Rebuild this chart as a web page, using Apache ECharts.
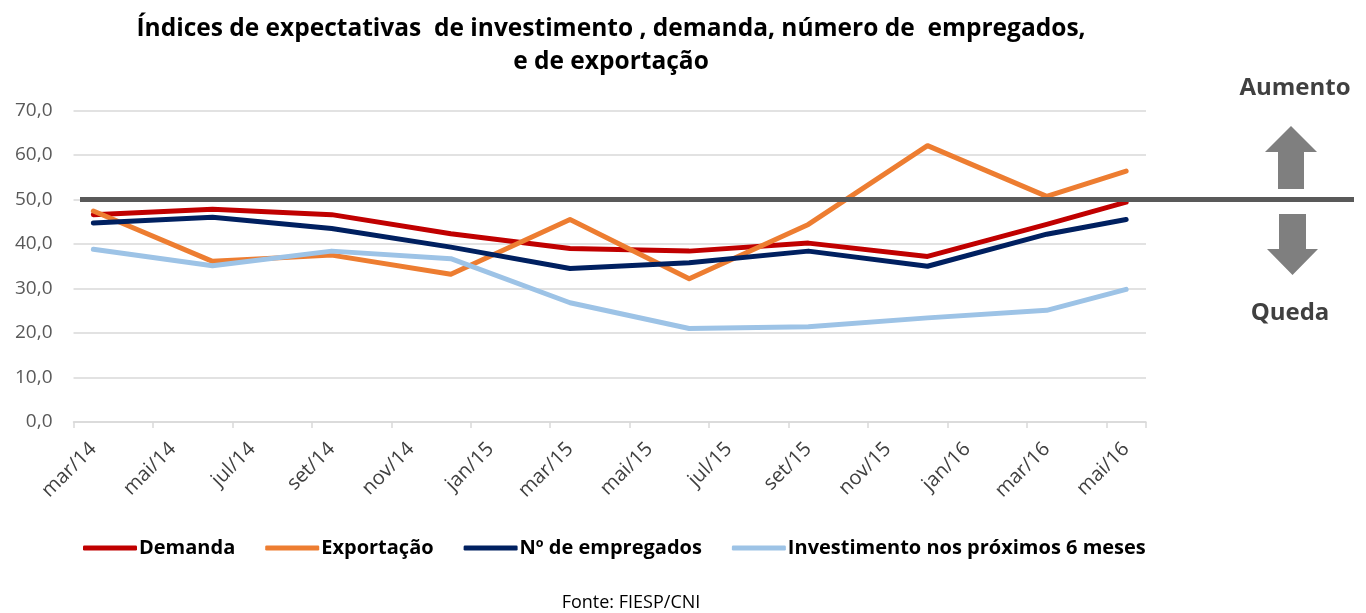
<!DOCTYPE html>
<html><head><meta charset="utf-8">
<script src="https://cdn.jsdelivr.net/npm/echarts@6/dist/echarts.min.js"></script>
<style>html,body{margin:0;padding:0;background:#fff}#c{width:1366px;height:613px}</style>
</head><body><div id="c"></div>
<script>
const months = ['mar/14','abr/14','mai/14','jun/14','jul/14','ago/14','set/14','out/14','nov/14','dez/14',
  'jan/15','fev/15','mar/15','abr/15','mai/15','jun/15','jul/15','ago/15','set/15','out/15','nov/15','dez/15',
  'jan/16','fev/16','mar/16','abr/16','mai/16'];
const obsMonths = ['mar/14','jun/14','set/14','dez/14','mar/15','jun/15','set/15','dez/15','mar/16','mai/16'];
const demanda      = [46.6, 47.8, 46.6, 42.3, 39.0, 38.4, 40.2, 37.2, 44.4, 49.4];
const exportacao   = [47.4, 36.1, 37.5, 33.2, 45.5, 32.2, 44.4, 62.1, 50.7, 56.4];
const empregados   = [44.7, 46.0, 43.5, 39.3, 34.5, 35.8, 38.4, 35.0, 42.2, 45.5];
const investimento = [38.8, 35.1, 38.4, 36.7, 26.8, 21.0, 21.4, 23.4, 25.1, 29.8];
const seriesNames = ['Demanda','Exportação','Nº de empregados','Investimento nos próximos 6 meses'];
const seriesColors = ['#C00000','#ED7D31','#002060','#9DC3E6'];
const refLevel = 50;

function toData(vals){ return vals.map((v,i)=>[months.indexOf(obsMonths[i]), v]); }
const FONT = '"Open Sans", Lato, sans-serif';
const chart = echarts.init(document.getElementById('c'), null, {renderer:'canvas'});
const allVals = [demanda, exportacao, empregados, investimento];
chart.setOption({
  animation:false,
  title:{text:'Índices de expectativas  de investimento , demanda, número de  empregados,\ne de exportação',
    left:606, top:8, textAlign:'center',
    textStyle:{fontFamily:FONT, fontWeight:'bold', fontSize:24.5, lineHeight:33, color:'#000'}},
  grid:{left:73.5, right:220, top:110.5, bottom:191, containLabel:false},
  legend:{bottom:50, left:78, icon:'roundRect', itemWidth:54, itemHeight:5, itemGap:30,
    textStyle:{fontFamily:FONT, fontWeight:'bold', fontSize:20, color:'#000', padding:[0,0,0,-3]},
    data:seriesNames},
  xAxis:{type:'category', data:months, boundaryGap:true,
    axisLine:{lineStyle:{color:'#D9D9D9', width:1.5}},
    axisTick:{show:true, interval:1, length:6, lineStyle:{color:'#D9D9D9', width:1.5}},
    axisLabel:{interval:1, rotate:45, fontFamily:FONT, fontSize:20, color:'#404040', margin:24}},
  yAxis:{type:'value', min:0, max:70, interval:10,
    axisLine:{show:false}, axisTick:{show:false},
    splitLine:{lineStyle:{color:'#D9D9D9', width:1.5}},
    axisLabel:{formatter:v=>v.toFixed(1).replace('.',','), fontFamily:FONT, fontSize:19, color:'#595959', margin:21}},
  series: seriesNames.map((n,k)=>({name:n, type:'line', data:toData(allVals[k]), connectNulls:true,
    showSymbol:false, symbol:'none', color:seriesColors[k],
    lineStyle:{width:5, color:seriesColors[k], cap:'round', join:'round'}, itemStyle:{color:seriesColors[k]}}))
});
const y50 = chart.convertToPixel({yAxisIndex:0}, refLevel);
chart.setOption({graphic:[
  {type:'line', shape:{x1:80, y1:y50, x2:1354, y2:y50}, style:{stroke:'#595959', lineWidth:5}, z:100},
  {type:'polygon', shape:{points:[[1291,126],[1317,152],[1304,152],[1304,189],[1278,189],[1278,152],[1265,152]]}, style:{fill:'#7F7F7F'}},
  {type:'polygon', shape:{points:[[1279,214],[1306,214],[1306,249],[1318,249],[1292.5,275],[1267,249],[1279,249]]}, style:{fill:'#7F7F7F'}},
  {type:'text', x:1295, y:88, style:{text:'Aumento', fontFamily:FONT, fontWeight:'bold', fontSize:24, fill:'#404040', align:'center', verticalAlign:'middle'}},
  {type:'text', x:1290, y:313, style:{text:'Queda', fontFamily:FONT, fontWeight:'bold', fontSize:24, fill:'#404040', align:'center', verticalAlign:'middle'}},
  {type:'text', x:631, y:603, style:{text:'Fonte: FIESP/CNI', fontFamily:FONT, fontSize:18, fill:'#000', align:'center', verticalAlign:'middle'}}
]});
</script></body></html>
